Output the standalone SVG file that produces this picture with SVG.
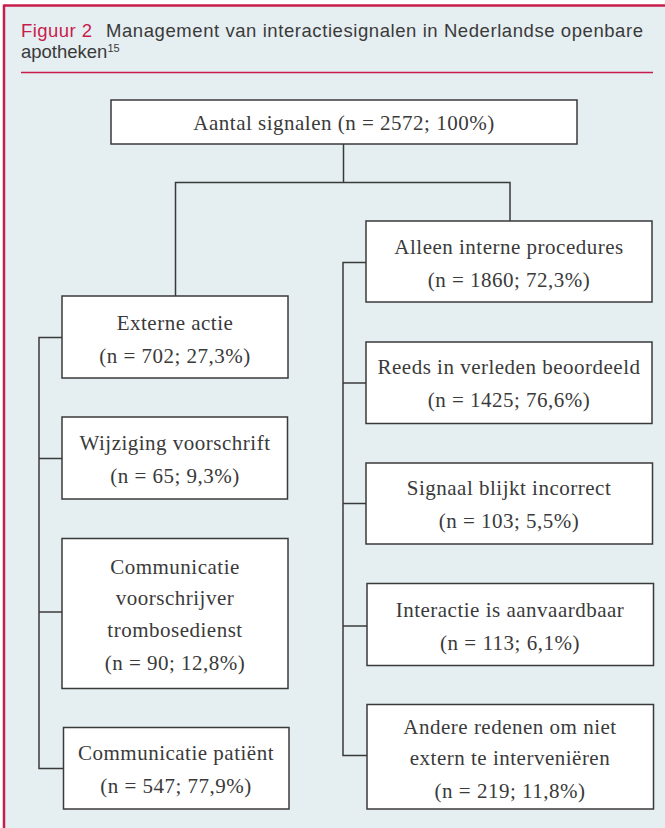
<svg xmlns="http://www.w3.org/2000/svg" width="665" height="828" viewBox="0 0 665 828">
<style>
.box{fill:#ffffff;stroke:#3a3a3a;stroke-width:1.5}
.lbl{font-family:"Liberation Serif","Times New Roman",serif;font-size:21px;fill:#3a3a3a;text-anchor:middle;letter-spacing:0.5px}
.title{font-family:"Liberation Sans",Arial,sans-serif;font-size:18.5px;fill:#3a3a3a}
.conn{fill:none;stroke:#3a3a3a;stroke-width:1.5}
</style>
<rect x="0" y="0" width="665" height="828" fill="#ffffff"/>
<rect x="4" y="6" width="661" height="822" fill="#e5eef1"/>
<line x1="4" y1="5.5" x2="665" y2="5.5" stroke="#c81c4c" stroke-width="2.5"/>
<line x1="4" y1="4.5" x2="4" y2="828" stroke="#c81c4c" stroke-width="2.5"/>
<g id="title">
<text class="title" x="21" y="37" style="fill:#c81c4c" textLength="71" lengthAdjust="spacing">Figuur 2</text>
<text class="title" x="106" y="37" textLength="537" lengthAdjust="spacing">Management van interactiesignalen in Nederlandse openbare</text>
<text class="title" x="21" y="58">apotheken<tspan font-size="11" dy="-6">15</tspan></text>
<line x1="21" y1="72.5" x2="653" y2="72.5" stroke="#c81c4c" stroke-width="1.5"/>
</g>
<g id="connectors">
<polyline class="conn" points="343.5,144 343.5,182.5"/>
<polyline class="conn" points="175.5,296 175.5,182.5 510,182.5 510,221"/>
<polyline class="conn" points="62,337.5 39,337.5 39,768.5 63,768.5"/>
<line class="conn" x1="39" y1="458.5" x2="62" y2="458.5"/>
<line class="conn" x1="39" y1="612" x2="62" y2="612"/>
<polyline class="conn" points="366,262.5 343,262.5 343,755.5 367,755.5"/>
<line class="conn" x1="343" y1="383" x2="366" y2="383"/>
<line class="conn" x1="343" y1="503.5" x2="366" y2="503.5"/>
<line class="conn" x1="343" y1="626" x2="367" y2="626"/>
</g>
<g id="n-top">
<rect class="box" x="111" y="100" width="466" height="44"/>
<text class="lbl" x="344" y="130">Aantal signalen (n = 2572; 100%)</text>
</g>
<g id="n-extern">
<rect class="box" x="62" y="296" width="226" height="82"/>
<text class="lbl" x="175" y="330">Externe actie</text>
<text class="lbl" x="175" y="362.5">(n = 702; 27,3%)</text>
</g>
<g id="n-wijziging">
<rect class="box" x="62" y="417" width="225.5" height="82"/>
<text class="lbl" x="175" y="450">Wijziging voorschrift</text>
<text class="lbl" x="175" y="482.5">(n = 65; 9,3%)</text>
</g>
<g id="n-communicatie">
<rect class="box" x="62" y="538.5" width="226" height="150"/>
<text class="lbl" x="175" y="573.5">Communicatie</text>
<text class="lbl" x="175" y="605">voorschrijver</text>
<text class="lbl" x="175" y="637">trombosedienst</text>
<text class="lbl" x="175" y="670">(n = 90; 12,8%)</text>
</g>
<g id="n-patient">
<rect class="box" x="63.5" y="727.5" width="225.5" height="81.5"/>
<text class="lbl" x="176" y="760">Communicatie patiënt</text>
<text class="lbl" x="176" y="792.5">(n = 547; 77,9%)</text>
</g>
<g id="n-intern">
<rect class="box" x="366" y="221" width="286" height="81"/>
<text class="lbl" x="509" y="253.5">Alleen interne procedures</text>
<text class="lbl" x="509" y="286.5">(n = 1860; 72,3%)</text>
</g>
<g id="n-reeds">
<rect class="box" x="366" y="342" width="286" height="81.5"/>
<text class="lbl" x="509" y="374">Reeds in verleden beoordeeld</text>
<text class="lbl" x="509" y="407">(n = 1425; 76,6%)</text>
</g>
<g id="n-signaal">
<rect class="box" x="366" y="463" width="286.5" height="81"/>
<text class="lbl" x="509" y="495">Signaal blijkt incorrect</text>
<text class="lbl" x="509" y="528">(n = 103; 5,5%)</text>
</g>
<g id="n-interactie">
<rect class="box" x="367" y="583.5" width="286.5" height="82"/>
<text class="lbl" x="510" y="616.5">Interactie is aanvaardbaar</text>
<text class="lbl" x="510" y="649.5">(n = 113; 6,1%)</text>
</g>
<g id="n-andere">
<rect class="box" x="367" y="704.5" width="286.5" height="104.5"/>
<text class="lbl" x="510" y="733.5">Andere redenen om niet</text>
<text class="lbl" x="510" y="765">extern te interveniëren</text>
<text class="lbl" x="510" y="797.5">(n = 219; 11,8%)</text>
</g>
</svg>
